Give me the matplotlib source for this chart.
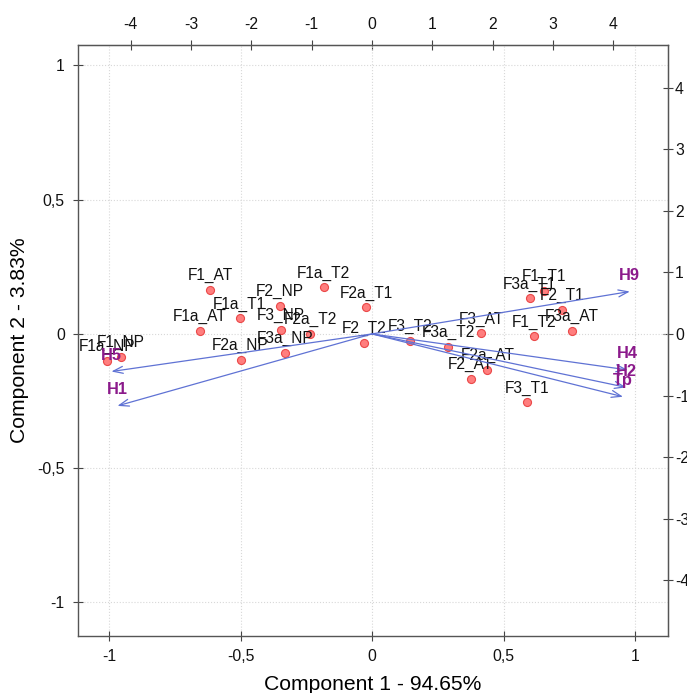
import numpy as np
import matplotlib
matplotlib.use("Agg")
import matplotlib.pyplot as plt

plt.rcParams['font.family'] = ['Liberation Sans', 'DejaVu Sans']

# sample scores (component 1, component 2)
names = ['F1a_NP', 'F1_NP', 'F1_AT', 'F1a_T2', 'F2_NP', 'F2a_T1', 'F1a_T1',
         'F1a_AT', 'F3_NP', 'F2a_T2', 'F3a_NP', 'F2a_NP', 'F2_T2', 'F3_T2',
         'F3a_T2', 'F3_AT', 'F2a_AT', 'F2_AT', 'F3_T1', 'F3a_T1', 'F1_T1',
         'F2_T1', 'F3a_AT', 'F1_T2']
pc1 = [-1.009, -0.956, -0.615, -0.184, -0.351, -0.022, -0.503,
       -0.655, -0.345, -0.236, -0.330, -0.500, -0.030, 0.143,
       0.289, 0.416, 0.438, 0.375, 0.588, 0.599, 0.654,
       0.723, 0.759, 0.616]
pc2 = [-0.099, -0.085, 0.164, 0.173, 0.105, 0.099, 0.058,
       0.012, 0.015, 0.000, -0.070, -0.096, -0.032, -0.026,
       -0.047, 0.003, -0.134, -0.167, -0.255, 0.132, 0.161,
       0.089, 0.012, -0.009]

# variable loadings
var_names = ['H5', 'H1', 'H9', 'H4', 'H2', 'Tp']
load1 = [-0.991, -0.968, 0.980, 0.972, 0.966, 0.954]
load2 = [-0.140, -0.268, 0.158, -0.134, -0.199, -0.234]

k = 4.36  # scale of the top/right axes

fig = plt.figure(figsize=(6.87, 6.93), dpi=100)
ax = fig.add_axes([0.1135, 0.0823, 0.8588, 0.8527])

ax.set_xlim(-1.118, 1.125)
ax.set_ylim(-1.125, 1.076)

ticks = [-1, -0.5, 0, 0.5, 1]
tick_lab = ['-1', '-0,5', '0', '0,5', '1']
ax.set_xticks(ticks)
ax.set_xticklabels(tick_lab)
ax.set_yticks(ticks)
ax.set_yticklabels(tick_lab)
ax.grid(True, color='#d8d8d8', linestyle=':', linewidth=0.8)
ax.set_axisbelow(True)

for s in ax.spines.values():
    s.set_color('#555555')
    s.set_linewidth(1.0)
ax.tick_params(direction='inout', length=7, width=0.8, color='#444444',
               labelsize=11.3, labelcolor='#111111', pad=6)

ax.plot(pc1, pc2, 'o', markersize=5.8, markerfacecolor='#ff7070',
        markeredgecolor='#e83c3c', markeredgewidth=0.8, alpha=0.9, zorder=3)
for n, x, y in zip(names, pc1, pc2):
    ax.annotate(n, (x, y), xytext=(0, 7), textcoords='offset points',
                ha='center', va='baseline', fontsize=11.2, color='#111111',
                zorder=4)

for n, x, y in zip(var_names, load1, load2):
    ax.annotate('', xy=(x, y), xytext=(0, 0),
                arrowprops=dict(arrowstyle='->,head_length=0.7,head_width=0.25',
                                color='#5f72d4', lw=0.9, shrinkA=0, shrinkB=0),
                zorder=5)
    ax.annotate(n, (x, y), xytext=(0, 8.5), textcoords='offset points',
                ha='center', va='baseline', fontsize=11.8, fontweight='bold',
                color='#8b1a8b', zorder=6)

ax.set_xlabel('Component 1 - 94.65%', fontsize=15.2, labelpad=8)
ax.set_ylabel('Component 2 - 3.83%', fontsize=15.2, labelpad=6)

sec_ticks = [-4, -3, -2, -1, 0, 1, 2, 3, 4]
top = ax.secondary_xaxis('top', functions=(lambda v: v * k, lambda v: v / k))
top.set_xticks(sec_ticks)
top.set_xticklabels([str(t) for t in sec_ticks])
top.tick_params(direction='inout', length=7, width=0.8, color='#444444',
                labelsize=11.3, labelcolor='#111111', pad=6)
right = ax.secondary_yaxis('right', functions=(lambda v: v * k, lambda v: v / k))
right.set_yticks(sec_ticks)
right.set_yticklabels([str(t) for t in sec_ticks])
right.tick_params(direction='inout', length=7, width=0.8, color='#444444',
                  labelsize=11.3, labelcolor='#111111', pad=1.5)
for a in (top, right):
    for s in a.spines.values():
        s.set_color('#555555')

fig.savefig('out.png', dpi=100)
